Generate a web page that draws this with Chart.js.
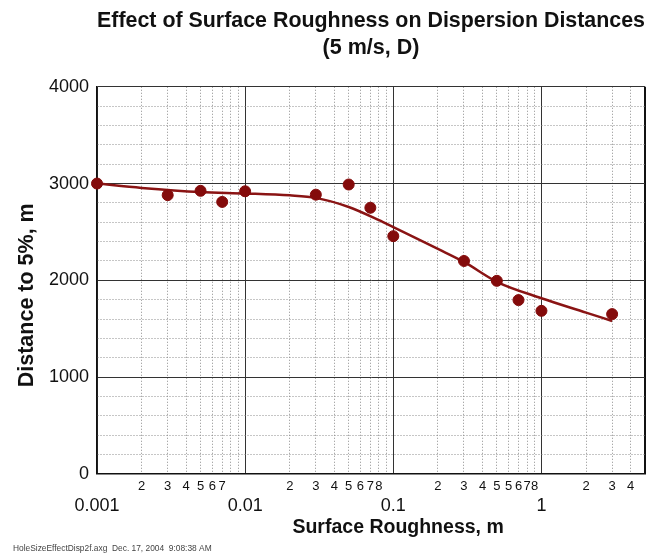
<!DOCTYPE html>
<html><head><meta charset="utf-8">
<script src="https://cdn.jsdelivr.net/npm/chart.js@4/dist/chart.umd.min.js"></script>
<style>html,body{margin:0;padding:0;background:#fff}#wrap{width:660px;height:558px}</style>
</head><body><div id="wrap"><canvas id="c" width="660" height="558"></canvas></div>
<script>
// Measured points (surface roughness in m, distance to 5% in m)
const roughness = [0.001, 0.003, 0.005, 0.007, 0.01, 0.03, 0.05, 0.07, 0.1, 0.3, 0.5, 0.7, 1, 3];
const distance  = [3000, 2880, 2925, 2810, 2920, 2885, 2990, 2750, 2456, 2200, 1995, 1796, 1685, 1651];
// Fitted curve
const fitRoughness = [0.001, 0.002, 0.005, 0.01, 0.02, 0.03, 0.05, 0.08, 0.1, 0.2, 0.3, 0.5, 1, 2, 3];
const fitDistance  = [3000, 2955, 2912, 2898, 2878, 2852, 2758, 2622, 2550, 2325, 2190, 1985, 1815, 1667, 1580];
// X axis tick positions and their printed labels
const xTickValues = [0.001,0.002,0.003,0.004,0.005,0.006,0.007,0.008,0.009,
                     0.01,0.02,0.03,0.04,0.05,0.06,0.07,0.08,0.09,
                     0.1,0.2,0.3,0.4,0.5,0.6,0.7,0.8,0.9,
                     1,2,3,4,5];
const xTickLabels = ['0.001','2','3','4','5','6','7','','',
                     '0.01','2','3','4','5','6','7','8','',
                     '0.1','2','3','4','5','5','6','7','8',
                     '1','2','3','4',''];
const xMajorValues = [0.001, 0.01, 0.1, 1];
const yMajorStep = 1000;

const FONT = "'Liberation Sans', Arial, Helvetica, sans-serif";
const isXMajor = v => xMajorValues.some(m => Math.abs(m - v) < m * 1e-6);
const isXSolid = v => isXMajor(v) || v === 5;

const chart = new Chart(document.getElementById('c'), {
  type: 'scatter',
  data: {
    datasets: [
      {
        label: 'Measured',
        data: roughness.map((x, i) => ({x, y: distance[i]})),
        backgroundColor: '#840b0b',
        borderColor: '#840b0b',
        pointRadius: 5.5,
        pointHoverRadius: 5.5,
        showLine: false,
        clip: false
      },
      {
        label: 'Fit',
        data: fitRoughness.map((x, i) => ({x, y: fitDistance[i]})),
        borderColor: '#8a1414',
        borderWidth: 2.5,
        pointRadius: 0,
        showLine: true,
        cubicInterpolationMode: 'monotone',
        fill: false
      }
    ]
  },
  options: {
    responsive: false,
    animation: false,
    devicePixelRatio: 1,
    layout: {padding: {left: 13, right: 15, top: 0, bottom: 0}},
    plugins: {
      legend: {display: false},
      tooltip: {enabled: false},
      title: {
        display: true,
        text: ['Effect of Surface Roughness on Dispersion Distances', '(5 m/s, D)'],
        font: {family: FONT, size: 21.5, weight: 'bold', lineHeight: 1.25},
        color: '#111',
        fullSize: false,
        padding: {top: 8, bottom: 25}
      },
      subtitle: {
        display: true,
        position: 'bottom',
        align: 'start',
        text: 'HoleSizeEffectDisp2f.axg  Dec. 17, 2004  9:08:38 AM',
        font: {family: FONT, size: 8.4, lineHeight: 1.2},
        color: '#444',
        padding: {top: 3, bottom: 4}
      }
    },
    scales: {
      x: {
        type: 'logarithmic',
        min: 0.001,
        max: 5,
        afterBuildTicks: s => { s.ticks = xTickValues.map(v => ({value: v, major: isXMajor(v)})); },
        afterFit: s => { s.height = 67; },
        ticks: {
          autoSkip: false,
          maxRotation: 0,
          minRotation: 0,
          padding: 5,
          color: '#111',
          font: ctx => (ctx.tick && isXMajor(ctx.tick.value))
            ? {family: FONT, size: 18, lineHeight: 1.0}
            : {family: FONT, size: 13, lineHeight: 1.2},
          callback: (v, i) => {
            const lab = xTickLabels[i];
            return isXMajor(xTickValues[i]) ? ['', lab] : lab;
          }
        },
        grid: {
          drawTicks: false,
          color: ctx => (ctx.tick && isXSolid(ctx.tick.value)) ? (ctx.tick.value === 5 ? '#111' : '#333') : '#8c8c8c',
          lineWidth: ctx => (ctx.tick && ctx.tick.value === 5) ? 2 : 1
        },
        border: {
          display: true,
          color: '#111',
          width: 1.5,
          dash: ctx => (ctx.tick && isXSolid(ctx.tick.value)) ? [] : [1, 2]
        },
        title: {
          display: true,
          text: '          Surface Roughness, m',
          font: {family: FONT, size: 19.5, weight: 'bold', lineHeight: 1.2},
          color: '#111',
          padding: {top: 0, bottom: 2}
        }
      },
      y: {
        type: 'linear',
        min: 0,
        max: 4000,
        afterFit: s => { s.width = 84; },
        ticks: {
          stepSize: 200,
          autoSkip: false,
          padding: 8,
          color: '#111',
          font: {family: FONT, size: 18},
          callback: v => (v % yMajorStep === 0 ? String(v) : '')
        },
        grid: {
          drawTicks: false,
          color: ctx => (ctx.tick && ctx.tick.value % yMajorStep === 0) ? '#333' : '#8c8c8c',
          lineWidth: 1
        },
        border: {
          display: true,
          color: '#111',
          width: 1.5,
          dash: ctx => (ctx.tick && ctx.tick.value % yMajorStep === 0) ? [] : [1, 2]
        },
        title: {
          display: true,
          text: 'Distance to 5%, m     ',
          font: {family: FONT, size: 21.5, weight: 'bold', lineHeight: 1.2},
          color: '#111',
          padding: {top: 1, bottom: 0}
        }
      }
    }
  }
});
</script></body></html>
